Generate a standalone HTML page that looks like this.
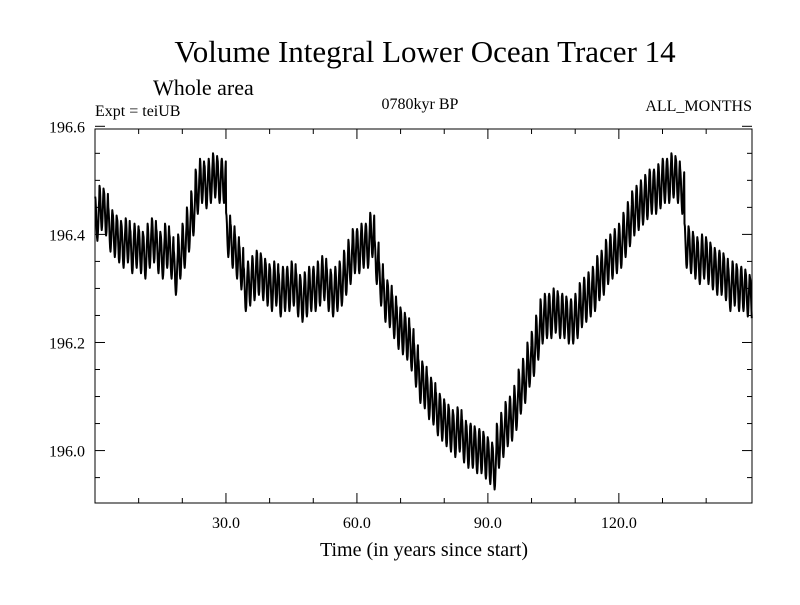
<!DOCTYPE html>
<html><head><meta charset="utf-8"><style>
body{margin:0;background:#fff;}
svg text{font-family:"Liberation Serif",serif;fill:#000;}
</style></head><body>
<svg id="chart" width="800" height="600">
<text x="425" y="62" text-anchor="middle" font-size="31">Volume Integral Lower Ocean Tracer 14</text>
<text x="153" y="95" font-size="22">Whole area</text>
<text x="95" y="116" font-size="16">Expt = teiUB</text>
<text x="420" y="109" text-anchor="middle" font-size="16">0780kyr BP</text>
<text x="752" y="111" text-anchor="end" font-size="16">ALL_MONTHS</text>
<text x="424" y="556" text-anchor="middle" font-size="20">Time (in years since start)</text>
<g id="ticks"></g>
<path id="series" fill="none" stroke="#000" stroke-width="2" stroke-linejoin="round"></path>
<rect x="95" y="129" width="657" height="374" fill="none" stroke="#000" stroke-width="1"></rect>
</svg>
<script>
const annualMeans=[196.43,196.45,196.44,196.41,196.40,196.39,196.38,196.39,196.37,196.38,
196.37,196.36,196.38,196.39,196.37,196.36,196.38,196.36,196.33,196.36,
196.38,196.41,196.44,196.48,196.50,196.49,196.50,196.51,196.50,196.50,
196.40,196.38,196.36,196.34,196.30,196.31,196.32,196.33,196.32,196.31,
196.30,196.31,196.29,196.30,196.30,196.31,196.29,196.28,196.29,196.30,
196.30,196.31,196.32,196.30,196.29,196.30,196.31,196.33,196.35,196.37,
196.37,196.38,196.38,196.40,196.35,196.31,196.28,196.27,196.25,196.23,
196.22,196.21,196.19,196.16,196.13,196.12,196.10,196.09,196.07,196.06,
196.05,196.04,196.03,196.04,196.02,196.01,196.01,196.00,196.00,195.99,
195.98,195.97,196.01,196.03,196.05,196.06,196.08,196.11,196.13,196.16,
196.18,196.21,196.24,196.25,196.25,196.26,196.25,196.25,196.24,196.24,
196.25,196.27,196.28,196.29,196.30,196.32,196.33,196.35,196.36,196.37,
196.38,196.40,196.42,196.44,196.45,196.46,196.47,196.48,196.48,196.49,
196.50,196.50,196.51,196.50,196.48,196.38,196.37,196.36,196.35,196.36,
196.35,196.34,196.33,196.33,196.32,196.30,196.31,196.30,196.30,196.29,196.28];
const seasonalCycle=[0.04,0.035,0.02,0.0,-0.02,-0.035,-0.042,-0.035,-0.02,0.0,0.02,0.035];
const xTickValues=[30,60,90,120];
const xTickLabels=["30.0","60.0","90.0","120.0"];
const yTickValues=[196.0,196.2,196.4,196.6];
const yTickLabels=["196.0","196.2","196.4","196.6"];
const xMin=0,xMax=150.5,yMin=195.903,yMax=196.595;
const L=95,R=752,T=129,B=503;
function xs(v){return L+(v-xMin)/(xMax-xMin)*(R-L);}
function ys(v){return B-(v-yMin)/(yMax-yMin)*(B-T);}
const NS='http://www.w3.org/2000/svg';
const g=document.getElementById('ticks');
function line(x1,y1,x2,y2,name){const l=document.createElementNS(NS,'line');
l.setAttribute('x1',x1);l.setAttribute('y1',y1);l.setAttribute('x2',x2);l.setAttribute('y2',y2);
l.setAttribute('stroke','#000');l.setAttribute('stroke-width','1');


g.appendChild(l);}
function txt(x,y,s,anchor,name){const t=document.createElementNS(NS,'text');
t.setAttribute('x',x);t.setAttribute('y',y);t.setAttribute('text-anchor',anchor);t.setAttribute('font-size','16');
t.textContent=s;


g.appendChild(t);}
for(let v=10;v<xMax-2;v+=10){const x=xs(v);const major=v%30===0;const len=major?10:5;
line(x,B,x,B-len,'x-tick');line(x,T,x,T+len,'x-tick-top');}
xTickValues.forEach((v,i)=>txt(xs(v),528,xTickLabels[i],'middle','x-tick-label'));
for(let k=0;k<=14;k++){const v=195.9+k*0.05;if(v<yMin-1e-9||v>yMax+0.006)continue;const y=ys(v);
const major=Math.abs((v*10)%2)<0.01||Math.abs((v*10)%2-2)<0.01;const len=major?10:5;
line(L,y,L+len,y,'y-tick');line(R,y,R-len,y,'y-tick-right');}
yTickValues.forEach((v,i)=>txt(85,ys(v)+6,yTickLabels[i],'end','y-tick-label'));
let d='';
annualMeans.forEach((a,yr)=>{seasonalCycle.forEach((s,m)=>{const t=yr+(m+0.5)/12;if(t>xMax)return;
d+=(d?'L':'M')+xs(t).toFixed(1)+','+ys(a+s).toFixed(1);});});
document.getElementById('series').setAttribute('d',d);
</script>
</body></html>
